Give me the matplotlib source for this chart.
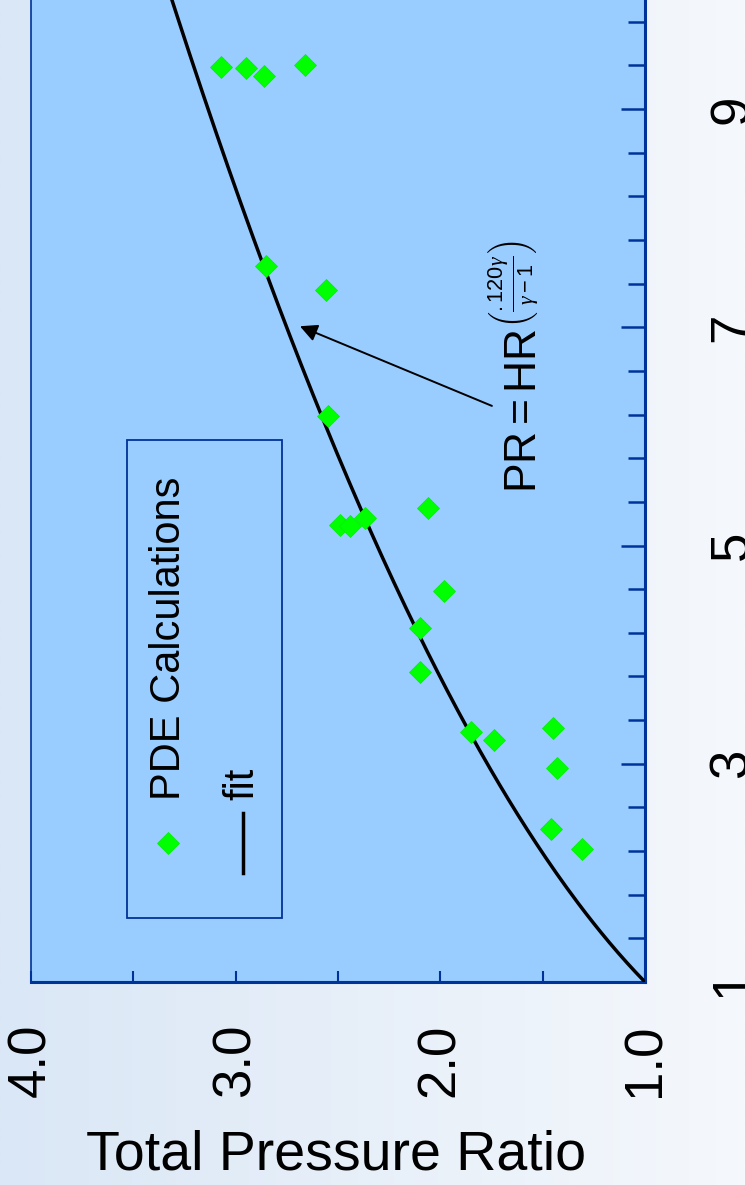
import numpy as np
import matplotlib
matplotlib.use("Agg")
import matplotlib.pyplot as plt
from matplotlib.patches import Rectangle
from matplotlib.ticker import MultipleLocator, FixedLocator
from matplotlib.colors import LinearSegmentedColormap

plt.rcParams['font.family'] = ['Liberation Sans', 'DejaVu Sans']
plt.rcParams['mathtext.fontset'] = 'custom'
plt.rcParams['mathtext.rm'] = 'Liberation Sans'
plt.rcParams['mathtext.it'] = 'Liberation Serif:italic'

# ---- data ----
hr_pde = [9.39, 9.38, 9.30, 9.40, 7.56, 7.34, 6.19, 5.19, 5.18, 5.25,
          5.34, 4.58, 4.24, 3.84, 3.29, 3.22, 3.33, 2.96, 2.40, 2.22]
pr_pde = [3.07, 2.95, 2.86, 2.66, 2.85, 2.56, 2.55, 2.49, 2.44, 2.37,
          2.06, 1.98, 2.10, 2.10, 1.85, 1.74, 1.45, 1.43, 1.46, 1.31]
gamma = 1.3
fit_coef = 0.120
hr_fit = np.linspace(1.0, 10.0, 200)
pr_fit = hr_fit ** (fit_coef * gamma / (gamma - 1.0))

pr_ticks = [1.0, 2.0, 3.0, 4.0]
pr_ticklabels = ['1.0', '2.0', '3.0', '4.0']
hr_ticks = [1, 3, 5, 7, 9]
hr_ticklabels = ['1', '3', '5', '7', '9']
hr_minor = [1.4, 1.8, 2.2, 2.6, 3.4, 3.8, 4.2, 4.6, 5.4, 5.8, 6.2, 6.6,
            7.4, 7.8, 8.2, 8.6, 9.4, 9.8]

# ---- figure ----
W, H = 745, 1185
fig = plt.figure(figsize=(W / 100, H / 100), dpi=100)

# background gradient
bg = fig.add_axes([0, 0, 1, 1], zorder=-10)
grad = np.linspace(0, 1, 256)[None, :]
cmap = LinearSegmentedColormap.from_list('bg', ['#dae7f6', '#f5f8fc'])
bg.imshow(grad, aspect='auto', cmap=cmap, extent=[0, 1, 0, 1])
bg.set_axis_off()

spine_c = '#003399'
ax = fig.add_axes([31 / W, 1 - 982 / H, (645 - 31) / W, 982 / H])
ax.set_facecolor('#99ccff')
ax.set_xlim(4.0, 1.0)
ax.set_ylim(1.0, 10.0)

ax.plot(pr_fit, hr_fit, color='black', lw=2.5, zorder=3, clip_on=True)
ax.plot(pr_pde, hr_pde, linestyle='none', marker='D', ms=11, color='#00ff00',
        mec='#00ee00', mew=0.5, zorder=4)

# spines
ax.spines['top'].set_visible(False)
ax.spines['left'].set_color(spine_c)
ax.spines['left'].set_linewidth(1.2)
ax.spines['bottom'].set_color(spine_c)
ax.spines['bottom'].set_linewidth(2.2)
ax.spines['right'].set_color(spine_c)
ax.spines['right'].set_linewidth(2.2)

# PR axis (horizontal, bottom)
ax.set_xticks(pr_ticks)
ax.set_xticklabels(pr_ticklabels, rotation=90)
ax.xaxis.set_minor_locator(MultipleLocator(0.5))
ax.tick_params(axis='x', which='both', direction='in', length=8, width=1.5,
               color=spine_c, labelsize=38, pad=30, top=False)

# HR axis (vertical, right)
ax.yaxis.tick_right()
ax.set_yticks(hr_ticks)
ax.set_yticklabels(hr_ticklabels, rotation=90, va='center')
ax.yaxis.set_minor_locator(FixedLocator(hr_minor))
ax.tick_params(axis='y', which='major', direction='in', length=17, width=1.8,
               color=spine_c, labelsize=38, pad=45, left=False)
ax.tick_params(axis='y', which='minor', direction='in', length=12, width=1.8,
               color=spine_c, left=False)

# legend (drawn rotated by hand)
ax.add_patch(Rectangle((0.156, 0.065), 0.253, 0.487, transform=ax.transAxes,
                       fill=False, edgecolor=spine_c, lw=1.3, zorder=5))
ax.plot([0.223], [0.1415], transform=ax.transAxes, marker='D', ms=11,
        color='#00ff00', mec='#00ee00', mew=0.5, linestyle='none', zorder=6)
ax.text(0.224, 0.185, 'PDE Calculations', transform=ax.transAxes, rotation=90,
        ha='center', va='bottom', fontsize=30, zorder=6)
ax.plot([0.345, 0.345], [0.111, 0.172], transform=ax.transAxes, color='black',
        lw=2.5, zorder=6)
ax.text(0.345, 0.185, 'fit', transform=ax.transAxes, rotation=90,
        ha='center', va='bottom', fontsize=30, zorder=6)

# annotation
ax.annotate('', xy=(2.686, 7.01), xytext=(1.748, 6.28),
            arrowprops=dict(arrowstyle='-|>', lw=1.4, color='black',
                            mutation_scale=26, shrinkA=0, shrinkB=0), zorder=6)
ax.text(1.479, 5.48,
        r'$\mathrm{PR} = \mathrm{HR}^{\left(\frac{.120\gamma}{\gamma - 1}\right)}$',
        rotation=90, ha='right', va='bottom', fontsize=32, zorder=6)

# axis title
fig.text(336 / W, 1 - 1155 / H, 'Total Pressure Ratio', ha='center', va='center',
         fontsize=40)

fig.savefig('out.png', dpi=100)
